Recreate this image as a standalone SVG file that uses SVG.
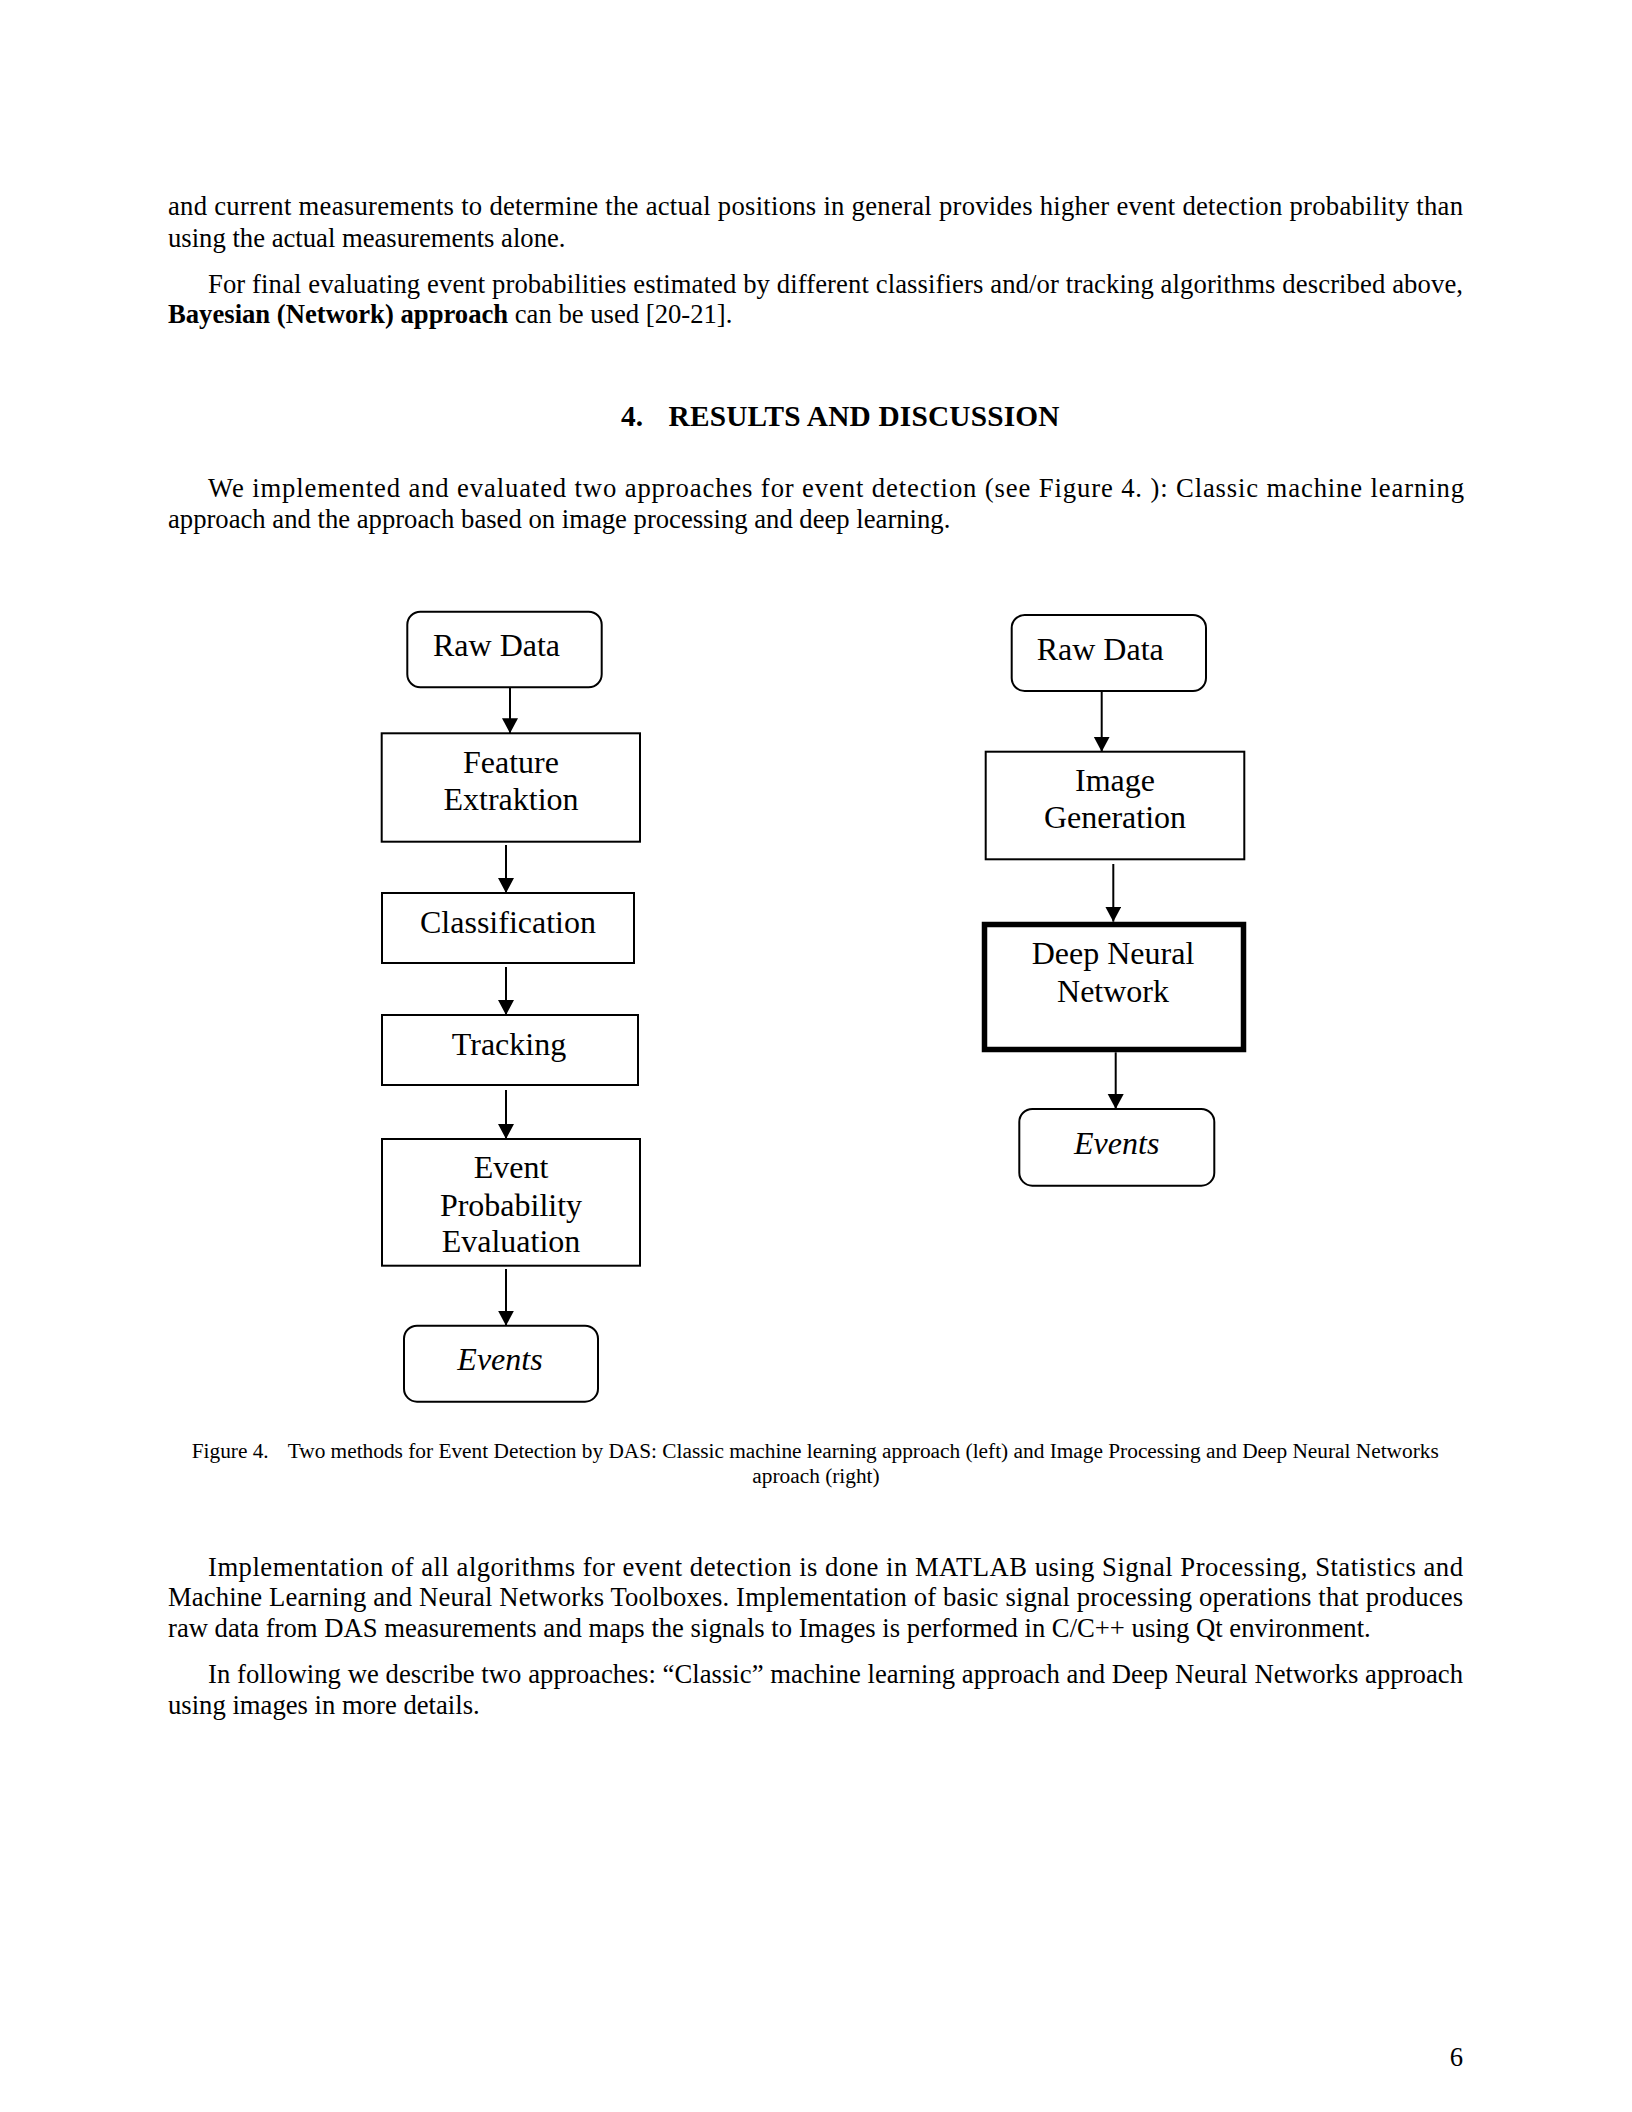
<svg xmlns="http://www.w3.org/2000/svg" width="1632" height="2112" viewBox="0 0 1632 2112">
<style>
.body{font-family:"Liberation Serif","Times New Roman",serif;font-size:26.67px;fill:#000}
.head{font-family:"Liberation Serif","Times New Roman",serif;font-size:29.33px;font-weight:bold;fill:#000}
.cap{font-family:"Liberation Serif","Times New Roman",serif;font-size:21.33px;fill:#000}
.lbl{font-family:"Liberation Serif","Times New Roman",serif;font-size:32px;fill:#000;text-anchor:middle}
.box{fill:#fff;stroke:#000;stroke-width:2}
.thick{fill:#fff;stroke:#000;stroke-width:5.5}
.conn line{stroke:#000;stroke-width:2;marker-end:url(#arr)}
</style>
<defs>
<marker id="arr" markerUnits="userSpaceOnUse" markerWidth="17" markerHeight="17" refX="15" refY="8" orient="auto">
<path d="M0,0 L15,8 L0,16 z" fill="#000"/>
</marker>
</defs>
<rect width="1632" height="2112" fill="#fff"/>

<text class="body" x="168" y="215" textLength="1295" lengthAdjust="spacing">and current measurements to determine the actual positions in general provides higher event detection probability than</text>
<text class="body" x="168" y="246.7">using the actual measurements alone.</text>
<text class="body" x="208" y="292.7" textLength="1255" lengthAdjust="spacing">For final evaluating event probabilities estimated by different classifiers and/or tracking algorithms described above,</text>
<text class="body" x="168" y="323.3"><tspan font-weight="bold">Bayesian (Network) approach</tspan> can be used [20-21].</text>

<text class="head" x="621" y="426">4.</text>
<text class="head" x="668.5" y="426" textLength="391" lengthAdjust="spacing">RESULTS AND DISCUSSION</text>

<text class="body" x="208" y="497.3" textLength="1256" lengthAdjust="spacing">We implemented and evaluated two approaches for event detection (see Figure 4. ): Classic machine learning</text>
<text class="body" x="168" y="527.7">approach and the approach based on image processing and deep learning.</text>

<g class="conn" id="connectors">
<line x1="510" y1="687.3" x2="510" y2="733.3"/>
<line x1="506" y1="845" x2="506" y2="893"/>
<line x1="506" y1="967" x2="506" y2="1015"/>
<line x1="506" y1="1090" x2="506" y2="1139"/>
<line x1="506" y1="1269" x2="506" y2="1325.7"/>
<line x1="1101.7" y1="691" x2="1101.7" y2="751.7"/>
<line x1="1113.3" y1="864" x2="1113.3" y2="921.7"/>
<line x1="1115.7" y1="1052.3" x2="1115.7" y2="1109"/>
</g>

<g id="left-raw-data">
<rect class="box" x="407.3" y="611.7" width="194.4" height="75.6" rx="13"/>
<text class="lbl" x="433" y="656" style="text-anchor:start">Raw Data</text>
</g>
<g id="feature-extraktion">
<rect class="box" x="381.7" y="733.3" width="258.3" height="108.4"/>
<text class="lbl" x="511" y="772.7">Feature</text>
<text class="lbl" x="511" y="810">Extraktion</text>
</g>
<g id="classification">
<rect class="box" x="382" y="893" width="252" height="70"/>
<text class="lbl" x="508" y="933">Classification</text>
</g>
<g id="tracking">
<rect class="box" x="382" y="1015" width="256" height="70"/>
<text class="lbl" x="509" y="1055">Tracking</text>
</g>
<g id="event-probability-evaluation">
<rect class="box" x="382" y="1139" width="258" height="126.7"/>
<text class="lbl" x="511" y="1178">Event</text>
<text class="lbl" x="511" y="1215.7">Probability</text>
<text class="lbl" x="511" y="1252">Evaluation</text>
</g>
<g id="left-events">
<rect class="box" x="404" y="1325.7" width="194" height="76" rx="13"/>
<text class="lbl" x="500" y="1370" font-style="italic">Events</text>
</g>

<g id="right-raw-data">
<rect class="box" x="1011.7" y="615" width="194.3" height="76" rx="13"/>
<text class="lbl" x="1036.7" y="660" style="text-anchor:start">Raw Data</text>
</g>
<g id="image-generation">
<rect class="box" x="985.7" y="751.7" width="258.6" height="107.6"/>
<text class="lbl" x="1115" y="790.7">Image</text>
<text class="lbl" x="1115" y="828.3">Generation</text>
</g>
<g id="deep-neural-network">
<rect class="thick" x="984.5" y="924.5" width="259" height="125"/>
<text class="lbl" x="1113" y="964">Deep Neural</text>
<text class="lbl" x="1113" y="1001.7">Network</text>
</g>
<g id="right-events">
<rect class="box" x="1019.3" y="1109" width="195" height="76.7" rx="13"/>
<text class="lbl" x="1116.7" y="1154" font-style="italic">Events</text>
</g>

<text class="cap" x="191.7" y="1458.3">Figure 4.</text>
<text class="cap" x="287.7" y="1458.3">Two methods for Event Detection by DAS: Classic machine learning approach (left) and Image Processing and Deep Neural Networks</text>
<text class="cap" x="816" y="1482.5" text-anchor="middle">aproach (right)</text>

<text class="body" x="208" y="1575.7" textLength="1255" lengthAdjust="spacing">Implementation of all algorithms for event detection is done in MATLAB using Signal Processing, Statistics and</text>
<text class="body" x="168" y="1605.7" textLength="1295" lengthAdjust="spacing">Machine Learning and Neural Networks Toolboxes. Implementation of basic signal processing operations that produces</text>
<text class="body" x="168" y="1637.3">raw data from DAS measurements and maps the signals to Images is performed in C/C++ using Qt environment.</text>
<text class="body" x="208" y="1683.3" textLength="1255" lengthAdjust="spacing">In following we describe two approaches: “Classic” machine learning approach and Deep Neural Networks approach</text>
<text class="body" x="168" y="1714">using images in more details.</text>

<text class="body" x="1463" y="2066" font-size="32" text-anchor="end">6</text>
</svg>
